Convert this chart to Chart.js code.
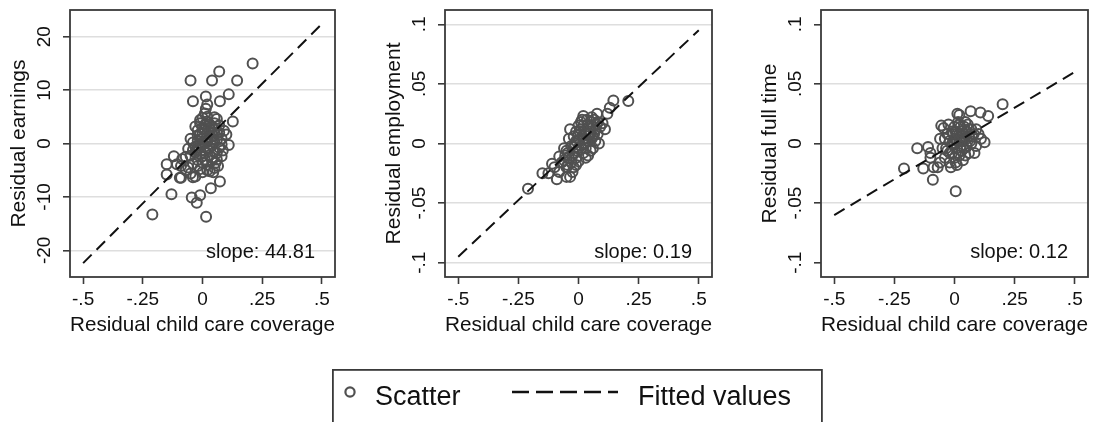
<!DOCTYPE html>
<html>
<head>
<meta charset="utf-8">
<script src="https://cdn.jsdelivr.net/npm/chart.js@4.4.1/dist/chart.umd.min.js"></script>
<style>
  html, body { margin: 0; padding: 0; background: #fff; overflow: hidden; }
  body { width: 1099px; height: 422px; position: relative; }
  canvas { position: absolute; top: 0; }
  #legend { left: 332px; top: 369px; }
</style>
</head>
<body>
<canvas id="p1" width="360" height="345" style="left:0px"></canvas>
<canvas id="p2" width="360" height="345" style="left:375px"></canvas>
<canvas id="p3" width="348" height="345" style="left:751px"></canvas>
<canvas id="legend" width="492" height="53"></canvas>
<script>
const xTicks = [-0.5, -0.25, 0, 0.25, 0.5];
const earnTicks = [-20, -10, 0, 10, 20];
const shareTicks = [-0.1, -0.05, 0, 0.05, 0.1];
const xTitle = 'Residual child care coverage';
const yTitles = ['Residual earnings', 'Residual employment', 'Residual full time'];
const slopes = [44.81, 0.19, 0.12];
const legendLabels = ['Scatter', 'Fitted values'];

// residual pairs [child care coverage, outcome]
const earningsPts = [
  [0.21, 15.0], [0.07, 13.5], [-0.05, 11.8], [0.04, 11.8], [0.145, 11.8], [-0.04, 7.9],
  [0.014, 8.8], [0.073, 7.9], [0.11, 9.2], [0.02, 7.3], [0.014, 6.5], [0.127, 4.1],
  [0.05, 4.9], [0.02, 5.0], [0.10, 1.7], [0.11, -0.3], [0.085, -1.3], [0.06, 4.6],
  [-0.12, -2.4], [-0.15, -3.9], [-0.107, -3.9], [-0.15, -5.8], [-0.09, -6.4], [-0.03, -6.2],
  [-0.04, -6.3], [0.073, -7.1], [0.035, -8.4], [-0.13, -9.5], [-0.045, -10.1], [-0.01, -9.7],
  [-0.024, -11.1], [-0.21, -13.3], [0.015, -13.7], [-0.095, -6.4], [-0.085, -2.9], [-0.09, -4.2],
  [-0.06, -4.5], [-0.07, -2.5], [-0.03, 3.2], [-0.02, 2.5], [-0.01, 3.8], [0, 2.8],
  [0.01, 3.5], [0.02, 4.1], [0.03, 2.2], [0.04, 3.0], [0.05, 2.6], [0.06, 1.9],
  [0.03, 1.2], [0.0, 1.0], [-0.02, 0.5], [-0.04, 0.2], [-0.05, 0.9], [-0.03, -0.6],
  [0.0, -0.3], [0.02, 0.3], [0.04, -0.4], [0.06, 0.6], [0.07, -0.8], [0.08, 0.9],
  [0.09, 2.4], [0.05, -1.6], [0.03, -2.2], [0.01, -1.4], [-0.01, -2.0], [-0.03, -1.7],
  [-0.05, -2.3], [-0.06, -1.0], [-0.02, -3.1], [0.0, -3.6], [0.02, -4.0], [0.04, -3.2],
  [0.05, -4.6], [0.06, -3.0], [0.03, -5.2], [-0.01, -4.8], [-0.04, -3.8], [0.01, 5.6],
  [-0.01, 1.8], [0.015, 0.9], [0.045, 1.4], [0.07, 3.4], [0.08, -2.4], [0.065, -4.2],
  [-0.07, -5.0], [-0.05, -5.6], [-0.02, 1.5], [0.0, 2.0], [0.02, 1.8], [0.04, 2.0],
  [0.01, 2.6], [-0.01, 0.0], [0.01, 0.2], [0.03, -0.8], [0.05, 0.2], [0.02, -1.0],
  [-0.02, -1.2], [0.0, -2.4], [0.04, -2.6], [0.06, -1.8], [0.03, 3.6], [0.05, 3.8],
  [-0.01, 4.4], [0.0, 4.8], [0.07, 2.0], [0.08, -0.2], [0.045, -5.4], [0.02, -5.0],
  [0.0, -5.4], [-0.02, -4.2], [0.055, -3.6], [-0.04, -1.2], [0.01, -3.0], [0.035, 0.6],
  [-0.015, -0.8], [0.025, 2.9]
];
const employmentPts = [
  [0.145, 0.036], [0.207, 0.0356], [-0.21, -0.038], [0.077, 0.025], [0.02, 0.023], [0.12, 0.025],
  [0.13, 0.03], [-0.05, -0.028], [-0.025, -0.024], [-0.15, -0.025], [-0.125, -0.025], [-0.08, -0.024],
  [-0.08, -0.011], [-0.09, -0.03], [-0.035, -0.028], [-0.1, -0.02], [-0.11, -0.017], [0.1, 0.017],
  [0.11, 0.012], [-0.06, -0.014], [-0.05, -0.006], [-0.04, -0.012], [-0.04, 0.004], [-0.03, -0.002],
  [-0.03, -0.016], [-0.02, 0.006], [-0.02, -0.008], [-0.01, 0.002], [-0.01, -0.012], [0, 0.008],
  [0, -0.004], [0.01, 0.012], [0.01, -0.002], [0.02, 0.004], [0.02, 0.015], [0.03, 0.008],
  [0.03, -0.004], [0.04, 0.016], [0.04, 0.002], [0.05, 0.010], [0.05, 0.018], [0.06, 0.006],
  [0.06, 0.014], [0.07, 0.012], [0.07, 0.002], [0.08, 0.008], [0.08, 0.018], [0.09, 0.014],
  [0.0, 0.015], [-0.01, 0.010], [-0.05, -0.020], [-0.06, -0.004], [-0.07, -0.016], [-0.02, -0.020],
  [0.0, -0.015], [0.02, -0.008], [0.04, -0.01], [0.06, -0.004], [-0.035, 0.012], [0.015, 0.020],
  [0.035, 0.020], [-0.015, -0.003], [0.005, 0.003], [0.025, 0.0], [0.045, 0.008], [-0.045, -0.018],
  [0.065, 0.02], [0.085, 0.0], [-0.015, 0.0], [0.005, 0.01], [0.025, 0.01], [0.035, 0.002],
  [0.055, 0.004], [0.045, 0.014], [0.015, 0.006], [-0.005, -0.006], [-0.025, -0.01], [-0.045, -0.008],
  [0.075, 0.016], [0.055, 0.022], [0.01, 0.018], [-0.01, -0.018], [0.03, -0.012], [0.05, -0.006],
  [0.065, 0.008], [-0.055, -0.01], [0.02, 0.0], [0.04, 0.008]
];
const fullTimePts = [
  [0.2, 0.033], [0.067, 0.027], [0.108, 0.026], [0.14, 0.023], [0.012, 0.025], [0.02, 0.024],
  [0.125, 0.001], [-0.21, -0.021], [-0.155, -0.004], [-0.11, -0.003], [-0.13, -0.021], [-0.09, -0.0305],
  [0.005, -0.04], [-0.055, 0.015], [-0.045, 0.013], [-0.1, -0.008], [-0.087, -0.02], [-0.1, -0.012],
  [0.083, -0.008], [0.1, 0.008], [0.11, 0.004], [-0.06, -0.016], [-0.07, -0.02], [-0.05, -0.004],
  [-0.04, 0.004], [-0.04, -0.012], [-0.03, 0.008], [-0.03, -0.006], [-0.02, -0.016], [-0.02, 0.002],
  [-0.01, 0.010], [-0.01, -0.008], [0, 0.004], [0, -0.012], [0, 0.014], [0.01, -0.004],
  [0.01, 0.008], [0.02, 0.016], [0.02, -0.010], [0.02, 0.002], [0.03, 0.010], [0.03, -0.006],
  [0.04, 0.004], [0.04, 0.014], [0.05, -0.002], [0.05, 0.010], [0.06, 0.006], [0.06, -0.008],
  [0.07, 0.012], [0.07, 0.0], [0.08, 0.008], [0.09, 0.012], [0.09, -0.002], [-0.015, -0.02],
  [0.01, -0.018], [0.035, -0.014], [-0.025, 0.016], [0.045, 0.018], [0.015, 0.018], [-0.06, 0.004],
  [0.055, 0.016], [0.0, 0.0], [0.01, 0.002], [0.02, 0.008], [0.03, 0.002], [0.04, -0.004],
  [0.05, 0.004], [-0.01, 0.0], [-0.02, -0.008], [0.015, -0.008], [0.025, 0.014], [0.035, 0.006],
  [0.06, 0.012], [-0.005, 0.008], [0.005, -0.016], [0.045, -0.01], [0.065, 0.002], [-0.035, -0.004],
  [0.075, 0.006], [0.025, -0.002], [0.005, 0.01]
];

const FONT = '"Liberation Sans", Arial, sans-serif';
const INK = '#111';
const FRAME = '#3a3a3a';
const MARK = '#505050';
Chart.defaults.font.family = FONT;
Chart.defaults.color = INK;

// Stata style numbers: .25, -.05
function fmt(v) {
  if (v === 0) return '0';
  return String(v).replace(/^(-?)0\./, '$1.');
}

const panelDecor = {
  id: 'panelDecor',
  beforeDatasetsDraw(chart) {
    const {ctx, chartArea: a} = chart;
    const ys = chart.scales.y;
    ctx.save();
    ctx.strokeStyle = FRAME;
    ctx.lineWidth = 1.8;
    ctx.strokeRect(a.left, a.top, a.right - a.left, a.bottom - a.top);
    // vertical tick labels on the y axis
    ctx.fillStyle = INK;
    ctx.font = '19px ' + FONT;
    ctx.textAlign = 'center';
    ctx.textBaseline = 'middle';
    ys.ticks.forEach(t => {
      ctx.save();
      ctx.translate(a.left - 25, ys.getPixelForValue(t.value));
      ctx.rotate(-Math.PI / 2);
      ctx.fillText(fmt(t.value), 0, 0);
      ctx.restore();
    });
    ctx.restore();
  },
  afterDatasetsDraw(chart, args, opts) {
    const {ctx, chartArea: a} = chart;
    ctx.save();
    ctx.fillStyle = INK;
    ctx.font = '20px ' + FONT;
    ctx.textAlign = 'right';
    ctx.textBaseline = 'alphabetic';
    ctx.fillText('slope: ' + opts.slope.toFixed(2), a.right - 20, a.bottom - 19);
    ctx.restore();
  }
};

function makePanel(id, pts, slope, yTicks, yMax, yTitle, padRight, edgeGrid) {
  const top = yTicks[yTicks.length - 1];
  return new Chart(document.getElementById(id), {
    type: 'scatter',
    data: {
      datasets: [
        {
          type: 'line',
          label: legendLabels[1],
          data: [{x: -0.5, y: -0.5 * slope}, {x: 0.5, y: 0.5 * slope}],
          borderColor: INK,
          borderWidth: 2,
          borderDash: [12, 7],
          pointRadius: 0,
          fill: false
        },
        {
          label: legendLabels[0],
          data: pts.map(p => ({x: p[0], y: p[1]})),
          pointRadius: 5,
          borderWidth: 2,
          borderColor: MARK,
          backgroundColor: 'rgba(0,0,0,0)'
        }
      ]
    },
    options: {
      responsive: false,
      animation: false,
      devicePixelRatio: 1,
      layout: {padding: {top: 10, right: padRight, bottom: 0, left: 0}},
      plugins: {
        legend: {display: false},
        tooltip: {enabled: false},
        panelDecor: {slope: slope}
      },
      scales: {
        x: {
          type: 'linear',
          min: -0.555,
          max: 0.555,
          afterBuildTicks: s => { s.ticks = xTicks.map(v => ({value: v})); },
          afterFit: s => { s.height = 68; },
          border: {display: false},
          grid: {drawOnChartArea: false, tickLength: 7, tickColor: FRAME, tickWidth: 1.6},
          ticks: {padding: 4, autoSkip: false, maxRotation: 0, font: {size: 19}, callback: v => fmt(v)},
          title: {display: true, text: xTitle, font: {size: 21}, padding: {top: 0, bottom: 7.5}}
        },
        y: {
          type: 'linear',
          min: -yMax,
          max: yMax,
          afterBuildTicks: s => { s.ticks = yTicks.map(v => ({value: v})); },
          afterFit: s => { s.width = 70; },
          border: {display: false},
          grid: {
            color: c => (!edgeGrid && Math.abs(c.tick.value) === top) ? 'rgba(0,0,0,0)' : '#dedede',
            lineWidth: 1.6,
            tickLength: 7,
            tickColor: FRAME,
            tickWidth: 1.6
          },
          ticks: {display: false},
          title: {display: true, text: yTitle, font: {size: 21}, padding: {top: 7, bottom: 0}}
        }
      }
    },
    plugins: [panelDecor]
  });
}

makePanel('p1', earningsPts, slopes[0], earnTicks, 25, yTitles[0], 25, true);
makePanel('p2', employmentPts, slopes[1], shareTicks, 0.112, yTitles[1], 23, true);
makePanel('p3', fullTimePts, slopes[2], shareTicks, 0.112, yTitles[2], 11, false);

// shared legend box under the panels
const lg = document.getElementById('legend').getContext('2d');
lg.strokeStyle = FRAME;
lg.lineWidth = 1.8;
lg.strokeRect(0.9, 0.9, 489, 80);
lg.beginPath();
lg.arc(18, 23, 4.6, 0, Math.PI * 2);
lg.lineWidth = 2.2;
lg.strokeStyle = MARK;
lg.stroke();
lg.fillStyle = INK;
lg.font = '27px ' + FONT;
lg.textBaseline = 'alphabetic';
lg.fillText(legendLabels[0], 43, 36);
lg.beginPath();
lg.setLineDash([17, 7]);
lg.moveTo(180, 23);
lg.lineTo(286, 23);
lg.lineWidth = 2.6;
lg.strokeStyle = INK;
lg.stroke();
lg.setLineDash([]);
lg.fillText(legendLabels[1], 306, 36);
</script>
</body>
</html>
